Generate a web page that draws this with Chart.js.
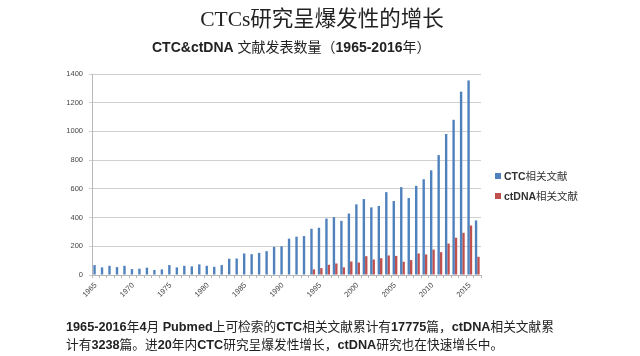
<!DOCTYPE html>
<html><head><meta charset="utf-8">
<script src="https://cdn.jsdelivr.net/npm/chart.js@4.4.1/dist/chart.umd.min.js"></script>
<style>
html,body{margin:0;padding:0;background:#fff;}
#wrap{position:relative;width:640px;height:356px;overflow:hidden;background:#fff;}
#c{position:absolute;left:0;top:0;}
.t{position:absolute;white-space:nowrap;color:#222;}
#title{left:0;width:644px;text-align:center;top:6px;font-size:21.5px;font-family:"Liberation Serif","Noto Sans CJK SC",serif;line-height:26px;}
#sub{left:152px;top:38px;font-size:14px;font-family:"Liberation Sans","Noto Sans CJK SC",sans-serif;line-height:18px;}
#sub b{font-weight:bold;}
.lg{position:absolute;left:495px;font-size:10.5px;font-family:"Liberation Sans","Noto Sans CJK SC",sans-serif;color:#333;white-space:nowrap;line-height:13px;}
.lg i{display:inline-block;width:6px;height:6px;margin-right:3px;vertical-align:1px;}
#note{left:66px;top:318px;font-size:12.7px;font-family:"Liberation Sans","Noto Sans CJK SC",sans-serif;line-height:18px;color:#222;}
#note b{font-weight:bold;}
</style></head>
<body><div id="wrap">
<canvas id="c" width="640" height="356"></canvas>
<div class="t" id="title">CTCs研究呈爆发性的增长</div>
<div class="t" id="sub"><b>CTC&amp;ctDNA</b> 文献发表数量（<b>1965-2016</b>年）</div>
<div class="lg" id="lg1" style="top:170px"><i style="background:#4F81BD"></i><b>CTC</b>相关文献</div>
<div class="lg" id="lg2" style="top:190px"><i style="background:#C0504D"></i><b>ctDNA</b>相关文献</div>
<div class="t" id="note"><b>1965-2016</b>年<b>4</b>月 <b>Pubmed</b>上可检索的<b>CTC</b>相关文献累计有<b>17775</b>篇，<b>ctDNA</b>相关文献累<br>计有<b>3238</b>篇。进<b>20</b>年内<b>CTC</b>研究呈爆发性增长，<b>ctDNA</b>研究也在快速增长中。</div>
</div>
<script>
const years = [];
for (let y = 1965; y <= 2016; y++) years.push(String(y));
const ctcCounts = [69,53,64,55,64,41,44,51,35,39,69,53,64,60,74,64,57,69,113,115,150,145,154,166,196,200,253,267,271,322,329,393,403,377,428,492,529,471,481,577,515,612,536,621,667,729,835,982,1081,1277,1355,380];
const ctdnaCounts = [0,0,0,0,0,0,0,0,0,0,0,0,0,0,0,0,0,0,0,0,0,0,0,0,0,0,0,0,0,39,48,71,80,53,94,87,131,108,117,136,133,92,104,150,143,177,159,219,260,294,345,127];
const seriesNames = ["CTC相关文献", "ctDNA相关文献"];
const yTicks = [0,200,400,600,800,1000,1200,1400];

new Chart(document.getElementById('c'), {
  type: 'bar',
  data: {
    labels: years,
    datasets: [
      {label: seriesNames[0], data: ctcCounts, backgroundColor: '#4F81BD', categoryPercentage: 0.64, barPercentage: 1.0},
      {label: seriesNames[1], data: ctdnaCounts, backgroundColor: '#C0504D', categoryPercentage: 0.64, barPercentage: 1.0}
    ]
  },
  options: {
    responsive: false,
    animation: false,
    layout: {padding: {left: 0, top: 74, right: 159, bottom: 41}},
    plugins: {legend: {display: false}, tooltip: {enabled: false}},
    scales: {
      y: {
        min: 0, max: 1400,
        afterFit: s => { s.width = 92; },
        afterBuildTicks: s => { s.ticks = yTicks.map(v => ({value: v})); },
        ticks: {font: {size: 7.5, family: 'Liberation Sans'}, color: '#444', padding: 6,
          callback: v => String(v)},
        grid: {color: '#cfcfcf', lineWidth: 1, drawTicks: true, tickLength: 3},
        border: {color: '#b8b8b8'}
      },
      x: {
        afterFit: s => { s.height = 40; },
        ticks: {
          autoSkip: false, maxRotation: 45, minRotation: 45,
          font: {size: 7.5, family: 'Liberation Sans'}, color: '#444', padding: 3,
          callback: function(v, i) { const y = +years[i]; return y % 5 === 0 ? years[i] : ''; }
        },
        grid: {display: true, drawOnChartArea: false, drawTicks: true, tickLength: 3, color: '#b8b8b8'},
        border: {color: '#b8b8b8'}
      }
    }
  }
});
</script>
</body></html>
